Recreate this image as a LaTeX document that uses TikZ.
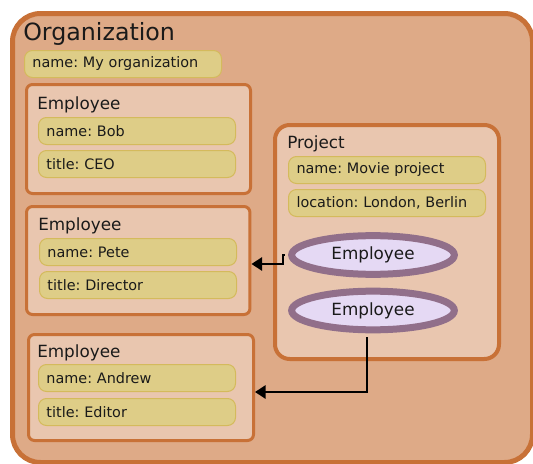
\documentclass[tikz,border=0pt]{standalone}
\usepackage{fontspec}
\setmainfont{DejaVu Sans}
\usetikzlibrary{shapes.geometric,arrows.meta}
\definecolor{orgfill}{HTML}{DEAA87}
\definecolor{orgline}{HTML}{C87137}
\definecolor{boxfill}{HTML}{E9C6AF}
\definecolor{fieldfill}{HTML}{DECD87}
\definecolor{fieldline}{HTML}{D4BA5C}
\definecolor{ellfill}{HTML}{E5D9F4}
\definecolor{ellline}{HTML}{916F8A}
\definecolor{txt}{HTML}{1A1A1A}
\frenchspacing
\begin{document}
\begin{tikzpicture}[x=0.75pt,y=-0.75pt,
 orgbox/.style={draw=orgline, fill=orgfill, line width=3.75pt, rounded corners=21pt, anchor=north west, inner sep=0pt, minimum width=390pt, minimum height=336.75pt},
 entbox/.style={draw=orgline, fill=boxfill, line width=2.25pt, rounded corners=4.5pt, anchor=north west, inner sep=0pt},
 projbox/.style={draw=orgline, fill=boxfill, line width=3pt, rounded corners=11pt, anchor=north west, inner sep=0pt, minimum width=168pt, minimum height=175.5pt},
 field/.style={draw=fieldline, fill=fieldfill, line width=0.75pt, rounded corners=6pt, anchor=north west, inner xsep=6pt, inner ysep=0pt, text width=135.75pt, minimum height=20.25pt, align=left, font=\fontsize{10.8}{13}\selectfont\frenchspacing, text=txt},
 head/.style={anchor=west, inner sep=0pt, text=txt, font=\fontsize{12.6}{15}\selectfont},
 bigtitle/.style={anchor=west, inner sep=0pt, text=txt, font=\fontsize{17.8}{21}\selectfont},
 ell/.style={ellipse, draw=ellline, fill=ellfill, line width=5.25pt, minimum width=122pt, minimum height=29pt, inner sep=0pt, text=txt, font=\fontsize{12.6}{15}\selectfont},
 arr/.style={draw=black, line width=1.5pt, -{Triangle[length=8pt,width=10pt]}}
]
\useasboundingbox (0,0) rectangle (533,464);
\node[orgbox] (org) at (10,11) {};
\node[bigtitle] (orgt) at (23,34) {Organization};
\node[field] (orgname) at (24,50) {name: My organization};
% Employee 1
\node[entbox, minimum width=168pt, minimum height=81.75pt] (emp1) at (25,83) {};
\node[head] (emp1t) at (37,105) {Employee};
\node[field] (emp1n) at (38,117) {name: Bob};
\node[field] (emp1ti) at (38,150) {title: CEO};
% Employee 2
\node[entbox, minimum width=167.6pt, minimum height=81pt] (emp2) at (25,205) {};
\node[head] (emp2t) at (38,226) {Employee};
\node[field] (emp2n) at (39,238) {name: Pete};
\node[field] (emp2ti) at (39,271) {title: Director};
% Employee 3
\node[entbox, minimum width=168.75pt, minimum height=79.5pt] (emp3) at (27,333) {};
\node[head] (emp3t) at (37,353) {Employee};
\node[field] (emp3n) at (38,364) {name: Andrew};
\node[field] (emp3ti) at (38,398) {title: Editor};
% Project
\node[projbox] (proj) at (273,123) {};
\node[head] (projt) at (287,144) {Project};
\node[field] (projn) at (288,156) {name: Movie project};
\node[field] (projl) at (288,189) {location: London, Berlin};
\node[ell] (el1) at (373,255) {Employee};
\node[ell] (el2) at (373,310.5) {Employee};
% connectors
\coordinate (k1) at (283,264);
\coordinate (k2) at (367,392);
\draw[arr, shorten <=2.6pt] (el1.west) -| (k1) -- (k1 -| emp2.east);
\draw[arr] ([shift={(-6,4)}]el2.south) -- (k2) -- (k2 -| emp3.east);
\end{tikzpicture}
\end{document}
